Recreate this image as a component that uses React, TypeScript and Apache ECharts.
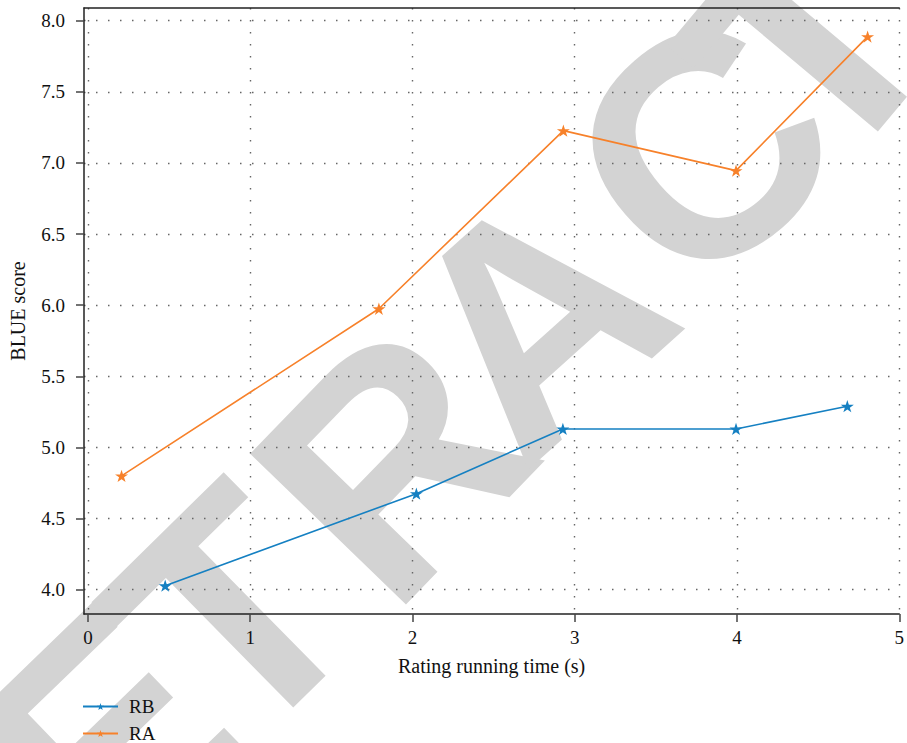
import React, { useEffect, useRef } from 'react';
import * as echarts from 'echarts';

// ---- data ----
const seriesNames = ['RB', 'RA'];
const rbX = [0.476, 2.024, 2.927, 3.994, 4.68];
const rbY = [4.028, 4.675, 5.13, 5.13, 5.29];
const raX = [0.207, 1.793, 2.93, 3.994, 4.805];
const raY = [4.8, 5.975, 7.227, 6.946, 7.888];
const xTicks = [0, 1, 2, 3, 4, 5];
const yTicks = [4.0, 4.5, 5.0, 5.5, 6.0, 6.5, 7.0, 7.5, 8.0];
const watermarkLetters = ['E', 'T', 'R', 'A', 'C', 'T'];

const FONT = "'Liberation Serif', 'DejaVu Serif', serif";
const STAR =
  'path://M50 0 L61.23 34.55 L97.55 34.55 L68.17 55.9 L79.39 90.45 L50 69.1 L20.61 90.45 L31.83 55.9 L2.45 34.55 L38.77 34.55 Z';

const near = (list: number[], v: number) => list.some((t) => Math.abs(t - v) < 1e-6);

export default function App() {
  const ref = useRef<HTMLDivElement>(null);

  useEffect(() => {
    if (!ref.current) return;
    const chart = echarts.init(ref.current, undefined, { renderer: 'svg' });

    const wmPlace = [
      { x: 106, y: 739, r: 44 },
      { x: 233, y: 614, r: 44.5 },
      { x: 392, y: 462, r: 46 },
      { x: 534, y: 318, r: 42 },
      { x: 702, y: 149, r: 41 },
      { x: 809, y: 44, r: 50 },
    ];

    const axisLineStyle = { color: '#222', width: 1.5 };
    const tickStyle = { color: '#444', width: 1.5 };
    const gridDots = { type: [1.5, 10.5], color: '#666', width: 1.4 };

    chart.setOption({
      animation: false,
      backgroundColor: '#ffffff',
      textStyle: { fontFamily: FONT },
      grid: { left: 82, right: 1, top: 8, bottom: 129, containLabel: false },
      legend: {
        orient: 'vertical',
        left: 82,
        top: 697,
        padding: 0,
        itemWidth: 35,
        itemHeight: 9,
        itemGap: 8,
        data: seriesNames,
        textStyle: {
          fontSize: 19,
          lineHeight: 19,
          color: '#111',
          fontFamily: FONT,
          padding: [0, 0, 0, 6],
        },
      },
      graphic: watermarkLetters.map((ch, i) => ({
        type: 'text',
        x: wmPlace[i].x,
        y: wmPlace[i].y,
        rotation: (wmPlace[i].r * Math.PI) / 180,
        z: -10,
        silent: true,
        style: {
          text: ch,
          fontSize: 315,
          fontWeight: 'bold',
          fontFamily: "'Liberation Sans', Arial, sans-serif",
          fill: '#d3d3d3',
          align: 'center',
          verticalAlign: 'middle',
          textAlign: 'center',
          textVerticalAlign: 'middle',
        },
      })),
      xAxis: [
        {
          type: 'value',
          min: -0.0244,
          max: 5,
          name: 'Rating running time (s)',
          nameLocation: 'middle',
          nameGap: 42,
          nameTextStyle: { fontSize: 20, color: '#111', fontFamily: FONT },
          axisLine: { show: true, onZero: false, lineStyle: axisLineStyle },
          axisTick: { show: true, length: 8, customValues: xTicks, lineStyle: tickStyle },
          axisLabel: {
            customValues: xTicks,
            margin: 14,
            fontSize: 19,
            color: '#111',
            fontFamily: FONT,
            formatter: (v: number) => (near(xTicks, v) ? String(Math.round(v)) : ''),
          },
          splitLine: { show: true, lineStyle: gridDots },
        },
        {
          type: 'value',
          position: 'top',
          min: -0.0244,
          max: 5,
          axisLine: { show: true, onZero: false, lineStyle: axisLineStyle },
          axisTick: { show: false },
          axisLabel: { show: false },
          splitLine: { show: false },
        },
      ],
      yAxis: {
        type: 'value',
        min: 3.829,
        max: 8.089,
        name: 'BLUE score',
        nameLocation: 'middle',
        nameGap: 56,
        nameTextStyle: { fontSize: 20, color: '#111', fontFamily: FONT },
        axisLine: { show: true, onZero: false, lineStyle: axisLineStyle },
        axisTick: { show: true, length: 8, customValues: yTicks, lineStyle: tickStyle },
        axisLabel: {
          customValues: yTicks,
          margin: 19,
          fontSize: 19,
          color: '#111',
          fontFamily: FONT,
          formatter: (v: number) => (near(yTicks, v) ? v.toFixed(1) : ''),
        },
        splitLine: { show: true, lineStyle: gridDots },
      },
      series: [
        {
          name: seriesNames[0],
          type: 'line',
          data: rbX.map((x, i) => [x, rbY[i]]),
          symbol: STAR,
          symbolSize: 13,
          symbolKeepAspect: true,
          lineStyle: { color: '#1580c2', width: 1.6 },
          itemStyle: { color: '#1580c2' },
          z: 3,
        },
        {
          name: seriesNames[1],
          type: 'line',
          data: raX.map((x, i) => [x, raY[i]]),
          symbol: STAR,
          symbolSize: 13,
          symbolKeepAspect: true,
          lineStyle: { color: '#f7812a', width: 1.6 },
          itemStyle: { color: '#f7812a' },
          z: 3,
        },
      ],
    });

    return () => chart.dispose();
  }, []);

  return (
    <div
      ref={ref}
      style={{ position: 'absolute', left: 0, top: 0, width: 907, height: 743 }}
    />
  );
}
